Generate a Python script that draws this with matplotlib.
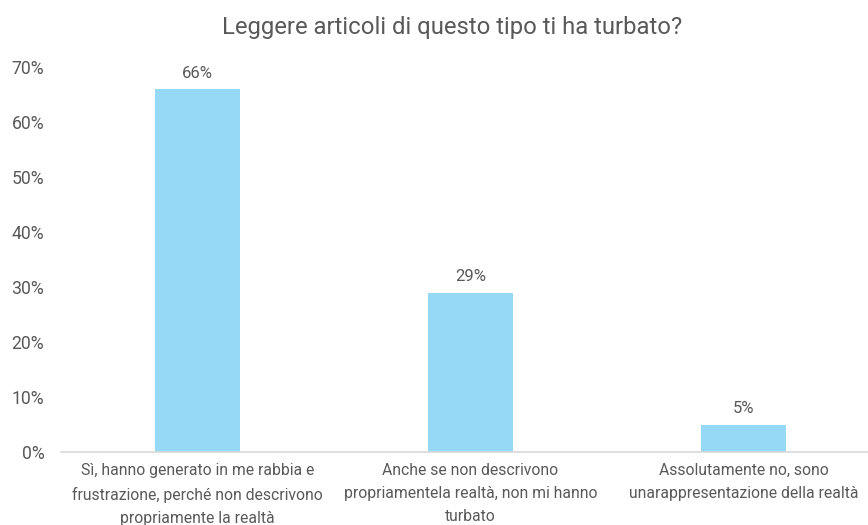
import matplotlib.pyplot as plt
from matplotlib.ticker import PercentFormatter

categories = [
    "Sì, hanno generato in me rabbia e\nfrustrazione, perché non descrivono\npropriamente la realtà",
    "Anche se non descrivono\npropriamentela realtà, non mi hanno\nturbato",
    "Assolutamente no, sono\nunarappresentazione della realtà",
]
values = [0.66, 0.29, 0.05]
value_labels = ["66%", "29%", "5%"]
y_ticks = [0, 0.1, 0.2, 0.3, 0.4, 0.5, 0.6, 0.7]

text_color = "#595959"
bar_color = "#96D9F6"

plt.rcParams["font.family"] = ["Roboto", "DejaVu Sans"]

fig = plt.figure(figsize=(8.68, 5.25), dpi=100)
ax = fig.add_axes([61 / 868, 73 / 525, 807 / 868, 385 / 525])

x = range(len(categories))
bars = ax.bar(x, values, width=0.31, color=bar_color)

for bar, lab in zip(bars, value_labels):
    ax.annotate(lab, (bar.get_x() + bar.get_width() / 2, bar.get_height()),
                xytext=(0, 6), textcoords="offset points",
                ha="center", va="bottom", fontsize=12, color=text_color)

ax.set_xlim(-0.5, 2.456)
ax.set_ylim(0, 0.7)
ax.set_yticks(y_ticks)
ax.yaxis.set_major_formatter(PercentFormatter(1.0, decimals=0))
ax.set_xticks(list(x))
ax.set_xticklabels(categories, fontsize=11.3, color=text_color, linespacing=1.68)

for side in ["top", "right", "left"]:
    ax.spines[side].set_visible(False)
ax.spines["bottom"].set_color("#D9D9D9")
ax.spines["bottom"].set_linewidth(1.2)
ax.tick_params(axis="both", length=0)
ax.tick_params(axis="y", labelsize=12.7, labelcolor=text_color, pad=12)
ax.tick_params(axis="x", pad=8)

fig.suptitle("Leggere articoli di questo tipo ti ha turbato?", x=0.521, y=0.97,
             fontsize=17.2, color=text_color)

fig.savefig("out.png", dpi=100)
